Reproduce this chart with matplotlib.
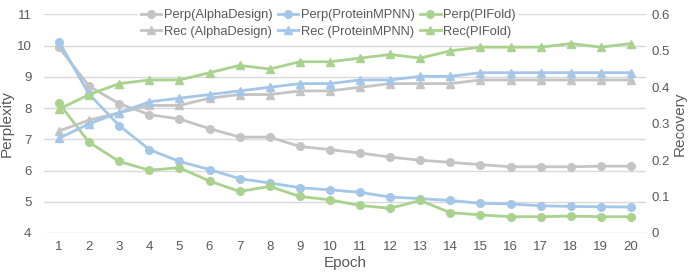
import matplotlib.pyplot as plt

plt.rcParams['font.family'] = ['Liberation Sans', 'DejaVu Sans']

epochs = list(range(1, 21))

# Perplexity (left axis)
perp_alpha = [9.94, 8.70, 8.14, 7.79, 7.65, 7.34, 7.07, 7.07, 6.77, 6.67,
              6.56, 6.43, 6.33, 6.26, 6.19, 6.12, 6.12, 6.12, 6.14, 6.14]
perp_mpnn = [10.12, 8.44, 7.44, 6.67, 6.29, 6.03, 5.74, 5.60, 5.45, 5.38,
             5.30, 5.15, 5.10, 5.04, 4.95, 4.93, 4.87, 4.85, 4.84, 4.83]
perp_pifold = [8.15, 6.90, 6.29, 6.01, 6.09, 5.66, 5.33, 5.49, 5.17, 5.06,
               4.88, 4.79, 5.04, 4.65, 4.58, 4.52, 4.52, 4.54, 4.52, 4.52]

# Recovery (right axis)
rec_alpha = [0.28, 0.31, 0.33, 0.35, 0.35, 0.37, 0.38, 0.38, 0.39, 0.39,
             0.40, 0.41, 0.41, 0.41, 0.42, 0.42, 0.42, 0.42, 0.42, 0.42]
rec_mpnn = [0.26, 0.30, 0.33, 0.36, 0.37, 0.38, 0.39, 0.40, 0.41, 0.41,
            0.42, 0.42, 0.43, 0.43, 0.44, 0.44, 0.44, 0.44, 0.44, 0.44]
rec_pifold = [0.34, 0.38, 0.41, 0.42, 0.42, 0.44, 0.46, 0.45, 0.47, 0.47,
              0.48, 0.49, 0.48, 0.50, 0.51, 0.51, 0.51, 0.52, 0.51, 0.52]

grey = '#C4C4C4'
blue = '#A4C6E9'
green = '#AAD28F'
txt = '#595959'

fig = plt.figure(figsize=(6.92, 2.77), dpi=100)
ax = fig.add_axes([0.0636, 0.159, 0.8699, 0.789])
ax2 = ax.twinx()

lw = 2.0
ms = 5.5
h1, = ax.plot(epochs, perp_alpha, color=grey, marker='o', lw=lw, ms=ms, label='Perp(AlphaDesign)')
h2, = ax.plot(epochs, perp_mpnn, color=blue, marker='o', lw=lw, ms=ms, label='Perp(ProteinMPNN)')
h3, = ax.plot(epochs, perp_pifold, color=green, marker='o', lw=lw, ms=ms, label='Perp(PIFold)')
h4, = ax2.plot(epochs, rec_alpha, color=grey, marker='^', lw=lw, ms=ms, label='Rec (AlphaDesign)')
h5, = ax2.plot(epochs, rec_mpnn, color=blue, marker='^', lw=lw, ms=ms, label='Rec (ProteinMPNN)')
h6, = ax2.plot(epochs, rec_pifold, color=green, marker='^', lw=lw, ms=ms, label='Rec(PIFold)')

ax.set_xlim(0.5, 20.5)
ax.set_ylim(4, 11)
ax2.set_ylim(0, 0.6)
ax.set_xticks(epochs)
ax.set_yticks(range(4, 12))
ax2.set_yticks([0, 0.1, 0.2, 0.3, 0.4, 0.5, 0.6])
ax2.set_yticklabels(['0', '0.1', '0.2', '0.3', '0.4', '0.5', '0.6'])

ax.grid(axis='y', color='#D9D9D9', lw=1)
ax.set_axisbelow(True)
for a in (ax, ax2):
    for s in a.spines.values():
        s.set_visible(False)
    a.tick_params(length=0, labelsize=9.5, colors=txt)
ax.tick_params(axis='y', pad=9)
ax2.tick_params(axis='y', pad=4)
ax.tick_params(axis='x', pad=6)

ax.set_xlabel('Epoch', fontsize=11, color=txt, labelpad=2)
ax.set_ylabel('Perplexity', fontsize=11, color=txt)
ax2.set_ylabel('Recovery', fontsize=11, color=txt)
ax.yaxis.set_label_coords(-0.05, 0.5)
ax2.yaxis.set_label_coords(1.045, 0.5)

leg = ax2.legend(handles=[h1, h4, h2, h5, h3, h6], ncol=3, loc='upper center',
                 bbox_to_anchor=(0.472, 1.065), frameon=True, fontsize=9.3,
                 handlelength=1.6, handletextpad=0.2, columnspacing=0.4,
                 labelspacing=0.35, borderpad=0.2, fancybox=False)
leg.get_frame().set_facecolor('white')
leg.get_frame().set_edgecolor('none')
for t in leg.get_texts():
    t.set_color(txt)

fig.savefig('out.png', dpi=100)
